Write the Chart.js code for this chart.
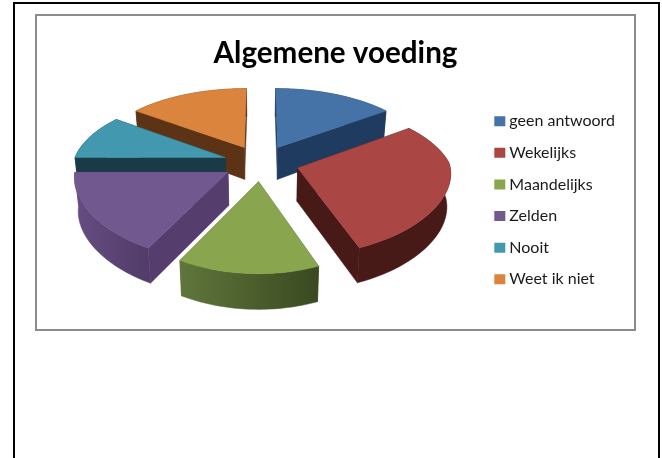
<!DOCTYPE html>
<html>
<head>
<meta charset="utf-8">
<title>Algemene voeding</title>
<script src="https://cdn.jsdelivr.net/npm/chart.js@4/dist/chart.umd.min.js"></script>
<style>
  html, body { margin: 0; background: #fff; overflow: hidden; }
  #page { position: absolute; left: 13px; top: 2px; width: 643px; height: 470px; border: 2px solid #000; }
  #frame { position: absolute; left: 35px; top: 14px; width: 597px; height: 313px; border: 2px solid #8c8c8c; }
  canvas { display: block; }
</style>
</head>
<body>
<div id="page"></div>
<div id="frame"><canvas id="chart" width="597" height="313"></canvas></div>
<script>
const categories = ["geen antwoord", "Wekelijks", "Maandelijks", "Zelden", "Nooit", "Weet ik niet"];
const values = [15, 29, 14, 17, 10, 15];
const topColors = ["#4572A7", "#AA4643", "#89A54E", "#71588F", "#4198AF", "#DB843D"];
const wallColors = ["#203B60", "#471A18", "#4F6330", "#553E6E", "#1B3A47", "#5C3314"];
const wallLeft = ["#203B60", "#471A18", "#5F763B", "#664D82", "#1B3A47", "#5C3314"];
const wallRight = ["#203B60", "#471A18", "#3A4920", "#523C69", "#1B3A47", "#5C3314"];

// ===============================
// Fake 3D view of the pie
// ===============================
const view = { cx: 224, cy: 147, a: 152, k: 72, perspY: 0.15, perspFar: 0.15, perspNear: 0.06, depth: 33, explode: 0.25, taper: 0.02 };

function project(u, v, bottom) {
  const wy = 1 / (1 - view.perspY * v);
  const wx = 1 / (1 - (v < 0 ? view.perspFar : view.perspNear) * v);
  const shrink = bottom ? 1 - view.taper : 1;
  return {
    x: view.cx + view.a * u * wx * shrink,
    y: view.cy + view.k * v * wy + (bottom ? view.depth * wx : 0)
  };
}

function fillPoly(ctx, pts, color) {
  ctx.beginPath();
  pts.forEach((p, i) => i ? ctx.lineTo(p.x, p.y) : ctx.moveTo(p.x, p.y));
  ctx.closePath();
  ctx.fillStyle = color;
  ctx.fill();
  ctx.strokeStyle = color;
  ctx.lineWidth = 0.5;
  ctx.stroke();
}

function drawSlice(ctx, arc, i) {
  const mid = (arc.startAngle + arc.endAngle) / 2;
  const ox = Math.cos(mid) * view.explode;
  const oy = Math.sin(mid) * view.explode;

  const rim = [];
  const steps = 40;
  for (let s = 0; s <= steps; s++) {
    const t = arc.startAngle + (arc.endAngle - arc.startAngle) * s / steps;
    rim.push({ u: ox + Math.cos(t), v: oy + Math.sin(t) });
  }
  const apex = { u: ox, v: oy };

  const faces = [];
  [rim[0], rim[steps]].forEach(p => {
    faces.push({
      depth: (apex.v + p.v) / 2,
      pts: [project(apex.u, apex.v), project(p.u, p.v), project(p.u, p.v, true), project(apex.u, apex.v, true)],
      color: wallColors[i]
    });
  });

  const rimTop = rim.map(p => project(p.u, p.v));
  const rimBottom = rim.map(p => project(p.u, p.v, true));
  const xs = rimTop.map(p => p.x);
  const grad = ctx.createLinearGradient(Math.min(...xs), 0, Math.max(...xs), 0);
  grad.addColorStop(0, wallLeft[i]);
  grad.addColorStop(1, wallRight[i]);
  faces.push({
    depth: rim[Math.floor(steps / 2)].v,
    pts: rimTop.concat(rimBottom.slice().reverse()),
    color: grad
  });

  faces.sort((a, b) => a.depth - b.depth).forEach(f => fillPoly(ctx, f.pts, f.color));
  fillPoly(ctx, [project(apex.u, apex.v)].concat(rimTop), topColors[i]);
}

const pie3d = {
  id: "pie3d",
  beforeDatasetsDraw(chart) {
    const ctx = chart.ctx;
    const arcs = chart.getDatasetMeta(0).data;
    // back slices first, near ones on top
    const order = arcs.map((a, i) => i).sort((p, q) =>
      Math.sin((arcs[p].startAngle + arcs[p].endAngle) / 2) - Math.sin((arcs[q].startAngle + arcs[q].endAngle) / 2));
    ctx.save();
    order.forEach(i => drawSlice(ctx, arcs[i], i));
    ctx.restore();
  },
  beforeDatasetDraw() {
    return false; // the flat pie itself is replaced by the 3D one
  }
};

new Chart(document.getElementById("chart"), {
  type: "pie",
  data: {
    labels: categories,
    // border only feeds the legend swatches (they sit closer to the text this way)
    datasets: [{ data: values, backgroundColor: topColors, borderColor: topColors, borderWidth: 8 }]
  },
  plugins: [pie3d],
  options: {
    responsive: false,
    animation: false,
    layout: { padding: { top: 0, right: 9, bottom: 0, left: 9 } },
    plugins: {
      tooltip: { enabled: false },
      title: {
        display: true,
        text: "Algemene voeding",
        color: "#000",
        font: { family: "Lato", size: 29.6, weight: "bold" },
        padding: { top: 20, bottom: 0 }
      },
      legend: {
        position: "right",
        fullSize: false,
        labels: {
          color: "#1a1a1a",
          font: { family: "Lato", size: 16 },
          boxWidth: 3,
          boxHeight: 2,
          padding: 15.6
        }
      }
    }
  }
});
</script>
</body>
</html>
